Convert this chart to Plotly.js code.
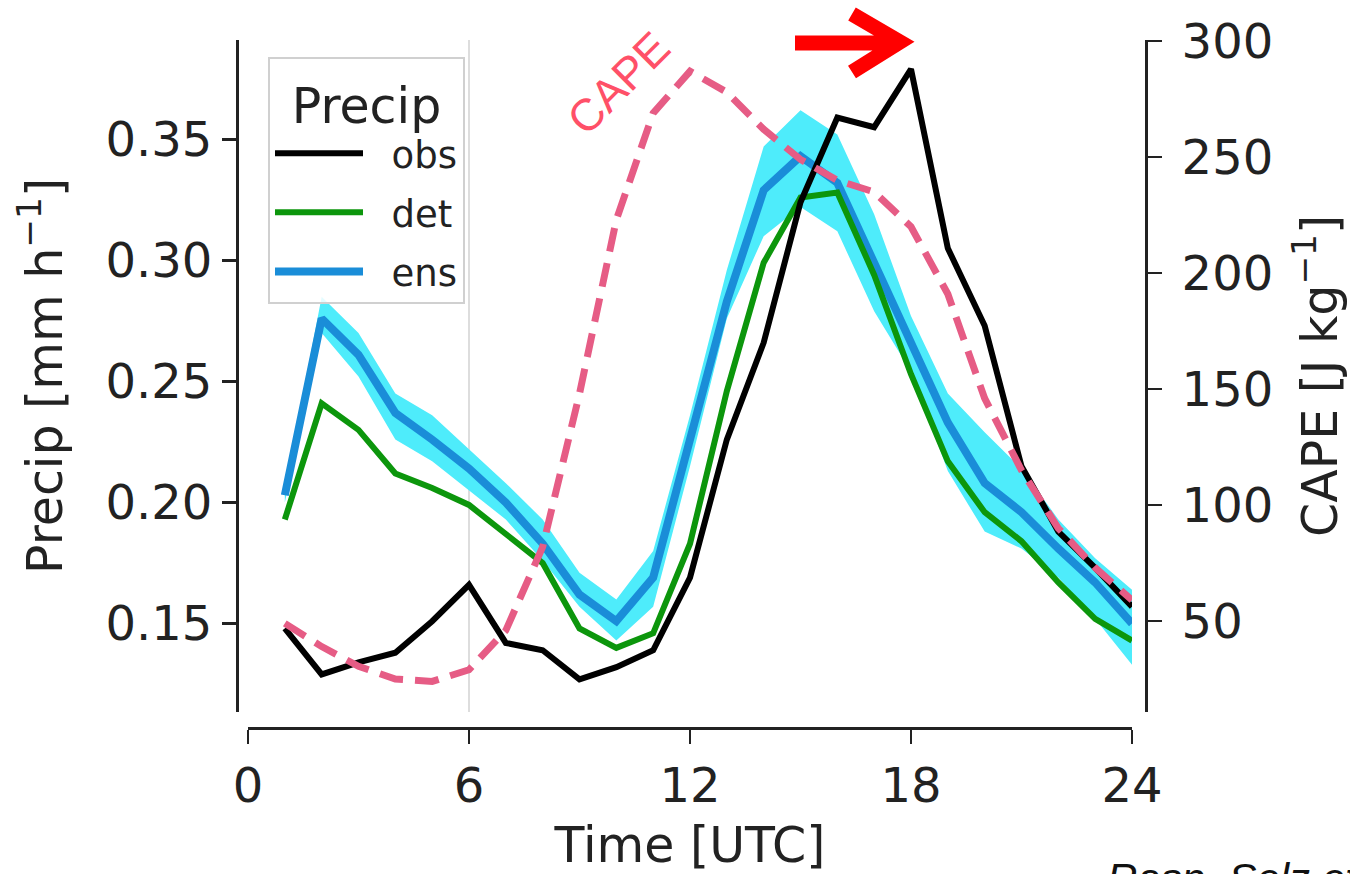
<!DOCTYPE html>
<html>
<head>
<meta charset="utf-8">
<script src="https://cdn.plot.ly/plotly-3.0.1.min.js"></script>
<style>html,body{margin:0;padding:0;background:#fff;}#chart{width:1350px;height:874px;}</style>
</head>
<body>
<div id="chart"></div>
<script>
// ---- data ----
const hours = [1,2,3,4,5,6,7,8,9,10,11,12,13,14,15,16,17,18,19,20,21,22,23,24];
const obs   = [0.148,0.129,0.134,0.138,0.151,0.166,0.142,0.139,0.127,0.132,0.139,0.169,0.226,0.266,0.324,0.359,0.355,0.379,0.305,0.273,0.215,0.188,0.173,0.157];
const det   = [0.193,0.241,0.230,0.212,0.206,0.199,0.187,0.175,0.148,0.140,0.146,0.183,0.246,0.299,0.326,0.328,0.294,0.253,0.217,0.196,0.184,0.167,0.152,0.143];
const ens   = [0.203,0.276,0.261,0.237,0.226,0.214,0.200,0.183,0.162,0.151,0.169,0.227,0.283,0.329,0.343,0.332,0.299,0.265,0.233,0.208,0.196,0.181,0.167,0.150];
const ensHi = [0.206,0.285,0.270,0.245,0.236,0.222,0.208,0.193,0.171,0.160,0.180,0.236,0.296,0.347,0.362,0.352,0.319,0.277,0.245,0.229,0.214,0.193,0.177,0.164];
const ensLo = [0.200,0.270,0.252,0.226,0.217,0.205,0.193,0.176,0.157,0.143,0.157,0.215,0.276,0.310,0.322,0.312,0.279,0.254,0.213,0.188,0.181,0.169,0.152,0.133];
const cape  = [49,39,30.5,25,24,29,46,82,148,223,269,287,278,262,249,240,235,220,191,146,115,90,73,59];
const seriesNames = ['obs', 'det', 'ens'];
const xTicks = [0,6,12,18,24];
const precipTicks = [0.15,0.20,0.25,0.30,0.35];
const precipTickText = ['0.15','0.20','0.25','0.30','0.35'];
const capeTicks = [50,100,150,200,250,300];

// ---- geometry helpers (paper area: x 237..1146, y 40..728 px) ----
const PL = 237, PR = 1146, PT = 40, PB = 728;
const px = v => (v - PL) / (PR - PL);
const py = v => (PB - v) / (PB - PT);

const FONT = 'DejaVu Sans, sans-serif';
const INK = '#222222';
const pad = s => '\u00a0\u00a0' + s;

const traces = [
  {x: hours, y: ensLo, type: 'scatter', mode: 'lines', line: {width: 0, color: 'rgba(0,0,0,0)'}, showlegend: false, hoverinfo: 'skip'},
  {x: hours, y: ensHi, type: 'scatter', mode: 'lines', fill: 'tonexty', fillcolor: '#4eecfb', line: {width: 0, color: 'rgba(0,0,0,0)'}, showlegend: false, hoverinfo: 'skip'},
  {x: hours, y: ens, type: 'scatter', mode: 'lines', name: pad(seriesNames[2]), legendgroup: 'g3', legendrank: 3, line: {color: '#1a8dd8', width: 8}},
  {x: hours, y: det, type: 'scatter', mode: 'lines', name: pad(seriesNames[1]), legendgroup: 'g2', legendrank: 2, line: {color: '#0c960c', width: 6}},
  {x: hours, y: obs, type: 'scatter', mode: 'lines', name: pad(seriesNames[0]), legendgroup: 'g1', legendrank: 1, line: {color: '#000000', width: 6}},
  {x: hours, y: cape, type: 'scatter', mode: 'lines', name: 'CAPE', yaxis: 'y2', showlegend: false, line: {color: '#e65c85', width: 7, dash: '24px,12px'}}
];

const axisCommon = {
  showgrid: false, zeroline: false, showline: true, linecolor: INK, linewidth: 3,
  ticks: 'outside', ticklen: 14, tickwidth: 2.5, tickcolor: INK,
  tickfont: {family: FONT, size: 48, color: INK}
};
const titleFont = {family: FONT, size: 49, color: INK};

const layout = {
  width: 1350, height: 874,
  margin: {l: PL, r: 1350 - PR, t: PT, b: 874 - PB, pad: 0},
  paper_bgcolor: '#ffffff', plot_bgcolor: 'rgba(0,0,0,0)',
  showlegend: true,
  legend: {
    x: px(268), y: py(57), xanchor: 'left', yanchor: 'top',
    traceorder: 'grouped', tracegroupgap: 8, itemwidth: 88,
    bgcolor: 'rgba(255,255,255,0.85)', bordercolor: '#d0d0d0', borderwidth: 2,
    font: {family: FONT, size: 37, color: INK},
    title: {text: 'Precip', side: 'top center', font: {family: FONT, size: 49, color: INK}}
  },
  xaxis: Object.assign({}, axisCommon, {
    domain: [px(248), px(1132)], range: [0, 24], anchor: 'free', position: 0,
    tickvals: xTicks, ticktext: xTicks.map(String),
    title: {text: 'Time [UTC]', font: titleFont, standoff: 16}
  }),
  yaxis: Object.assign({}, axisCommon, {
    domain: [py(712), 1], range: [0.1135, 0.391], anchor: 'free', position: 0, side: 'left',
    tickvals: precipTicks, ticktext: precipTickText,
    title: {text: 'Precip [mm h<sup>−1</sup>]', font: titleFont, standoff: 26}
  }),
  yaxis2: Object.assign({}, axisCommon, {
    domain: [py(712), 1], range: [10.8, 300.5], anchor: 'free', position: 1, side: 'right', overlaying: 'y',
    tickvals: capeTicks, ticktext: capeTicks.map(String), ticklabelstandoff: 10,
    title: {text: 'CAPE [J kg<sup>−1</sup>]', font: titleFont, standoff: 30}
  }),
  shapes: [
    {type: 'line', xref: 'x', yref: 'y domain', x0: 6, x1: 6, y0: 0, y1: 1, layer: 'below', line: {color: '#dddddd', width: 2}},
    {type: 'path', xref: 'paper', yref: 'paper', layer: 'above',
     path: 'M' + px(795) + ',' + py(43) + ' L' + px(900) + ',' + py(43) +
           ' M' + px(852) + ',' + py(14) + ' L' + px(900) + ',' + py(42) + ' L' + px(852) + ',' + py(72),
     line: {color: '#ff0000', width: 15}}
  ],
  annotations: [
    {text: 'CAPE', xref: 'paper', yref: 'paper', x: px(618), y: py(83), xanchor: 'center', yanchor: 'middle',
     textangle: -45, showarrow: false, font: {family: 'Liberation Sans, Arial, sans-serif', size: 45, color: '#ff5068'}},
    {text: '<i>Rasp, Selz et al.</i>', xref: 'paper', yref: 'paper', x: px(1105), y: py(853), xanchor: 'left', yanchor: 'top',
     showarrow: false, font: {family: 'Liberation Sans, Arial, sans-serif', size: 42, color: '#111111'}}
  ]
};

Plotly.newPlot('chart', traces, layout, {staticPlot: true, displayModeBar: false});
</script>
</body>
</html>
